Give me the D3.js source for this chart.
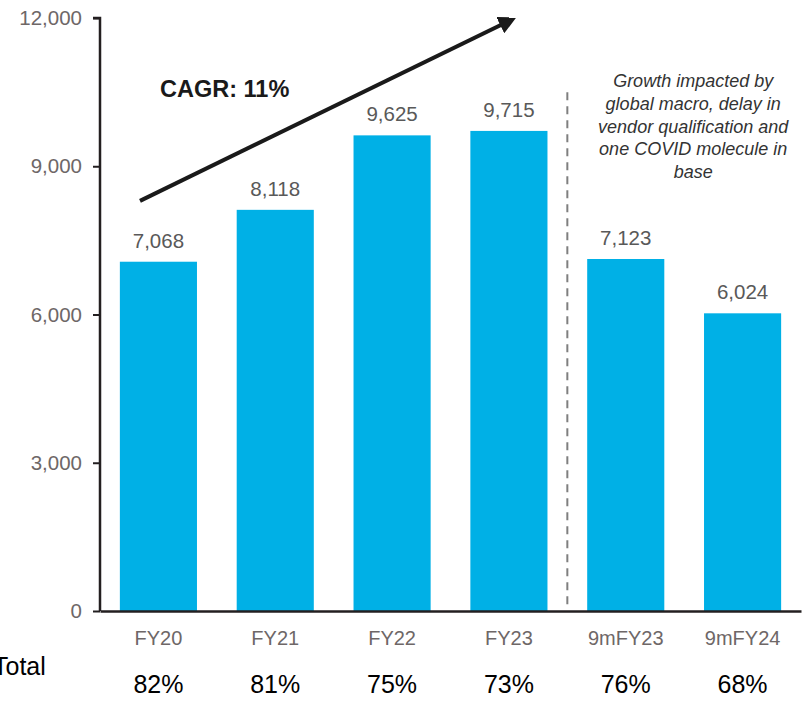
<!DOCTYPE html>
<html>
<head>
<meta charset="utf-8">
<script src="https://cdn.jsdelivr.net/npm/d3@7"></script>
<style>
  body { margin: 0; background: #fff; }
  svg { font-family: "Liberation Sans", Arial, sans-serif; }
</style>
</head>
<body>
<div id="chart"></div>
<script>
// data
var periods = ['FY20', 'FY21', 'FY22', 'FY23', '9mFY23', '9mFY24']
var values = [7068, 8118, 9625, 9715, 7123, 6024]
var totalShare = ['82%', '81%', '75%', '73%', '76%', '68%']
var yTicks = [0, 3000, 6000, 9000, 12000]
var noteLines = ['Growth impacted by', 'global macro, delay in', 'vendor qualification and', 'one COVID molecule in', 'base']
var cagrFrom = 8300, cagrTo = 11950

// set dimensions
var W = 807, H = 710
var margin = { top: 18, right: 5, bottom: 99, left: 100 }
var width = W - margin.left - margin.right
var height = H - margin.top - margin.bottom
var font = '"Liberation Sans", Arial, sans-serif'

var svg = d3.select('#chart').append('svg')
    .attr('width', W)
    .attr('height', H)
var g = svg.append('g')
    .attr('transform', 'translate(' + margin.left + ',' + margin.top + ')')

var x = d3.scaleBand()
    .domain(periods)
    .range([0, width - 1])
    .paddingInner(0.34)
    .paddingOuter(0.17)
var y = d3.scaleLinear()
    .domain([0, 12000])
    .range([height, 0])

// bars
g.selectAll('rect.bar')
    .data(values)
    .enter().append('rect')
    .attr('class', 'bar')
    .attr('x', function (d, i) { return x(periods[i]) })
    .attr('width', x.bandwidth())
    .attr('y', function (d) { return y(d) })
    .attr('height', function (d) { return height - y(d) })
    .style('fill', '#00b0e6')

// value labels
g.selectAll('text.val')
    .data(values)
    .enter().append('text')
    .attr('class', 'val')
    .attr('x', function (d, i) { return x(periods[i]) + x.bandwidth() / 2 })
    .attr('y', function (d) { return y(d) - 14 })
    .attr('text-anchor', 'middle')
    .style('font-size', '20.5px')
    .style('fill', '#595959')
    .text(d3.format(','))

// y axis
var yAxis = d3.axisLeft(y)
    .tickValues(yTicks)
    .tickSize(7)
    .tickPadding(11)
    .tickFormat(d3.format(','))
var gy = g.append('g').call(yAxis)
gy.select('.domain').style('stroke', '#231f20').style('stroke-width', 2.5)
    .attr('d', 'M-7,0H0V' + height)
gy.selectAll('.tick line').style('stroke', '#231f20').style('stroke-width', 2)
gy.selectAll('.tick text').style('font-size', '20.5px').style('fill', '#6e6767')
    .style('font-family', font)

// x axis
var xAxis = d3.axisBottom(x).tickSize(0).tickPadding(20)
var gx = g.append('g')
    .attr('transform', 'translate(0,' + height + ')')
    .call(xAxis)
gx.select('.domain').style('stroke', '#231f20').style('stroke-width', 2.5)
gx.selectAll('.tick text').style('font-size', '20px').style('fill', '#6e6767')
    .style('font-family', font)

// Total row
g.selectAll('text.pct')
    .data(totalShare)
    .enter().append('text')
    .attr('class', 'pct')
    .attr('x', function (d, i) { return x(periods[i]) + x.bandwidth() / 2 })
    .attr('y', height + 82)
    .attr('text-anchor', 'middle')
    .style('font-size', '25px')
    .style('fill', '#000')
    .text(function (d) { return d })
// label is clipped at the left edge in the original slide too
svg.append('text')
    .attr('x', -7)
    .attr('y', 675)
    .style('font-size', '25px')
    .style('fill', '#000')
    .text('Total')

// dashed separator between FY23 and 9mFY23
var sepX = (x('FY23') + x.bandwidth() + x('9mFY23')) / 2
g.append('line')
    .attr('x1', sepX).attr('x2', sepX)
    .attr('y1', y(10500)).attr('y2', height - 6)
    .style('stroke', '#7f7f7f')
    .style('stroke-width', 2)
    .style('stroke-dasharray', '8,6')

// note
var note = g.append('text')
    .attr('text-anchor', 'middle')
    .style('font-size', '18px')
    .style('font-style', 'italic')
    .style('fill', '#333')
note.selectAll('tspan')
    .data(noteLines)
    .enter().append('tspan')
    .attr('x', (x('9mFY23') + x('9mFY24') + x.bandwidth()) / 2 + 9)
    .attr('y', function (d, i) { return 69 + i * 22.75 })
    .text(function (d) { return d })

// CAGR arrow
svg.append('defs').append('marker')
    .attr('id', 'head')
    .attr('viewBox', '0 0 10 10')
    .attr('refX', 6).attr('refY', 5)
    .attr('markerWidth', 4.5).attr('markerHeight', 4.5)
    .attr('orient', 'auto')
    .append('path')
    .attr('d', 'M0,0L10,5L0,10Z')
    .style('fill', '#1a1a1a')
g.append('line')
    .attr('x1', 40).attr('y1', y(cagrFrom))
    .attr('x2', 410).attr('y2', y(cagrTo))
    .style('stroke', '#1a1a1a')
    .style('stroke-width', 4)
    .attr('marker-end', 'url(#head)')
g.append('text')
    .attr('x', 60)
    .attr('y', 79)
    .style('font-size', '23.5px')
    .style('font-weight', 'bold')
    .style('fill', '#1a1a1a')
    .text('CAGR: 11%')
</script>
</body>
</html>
